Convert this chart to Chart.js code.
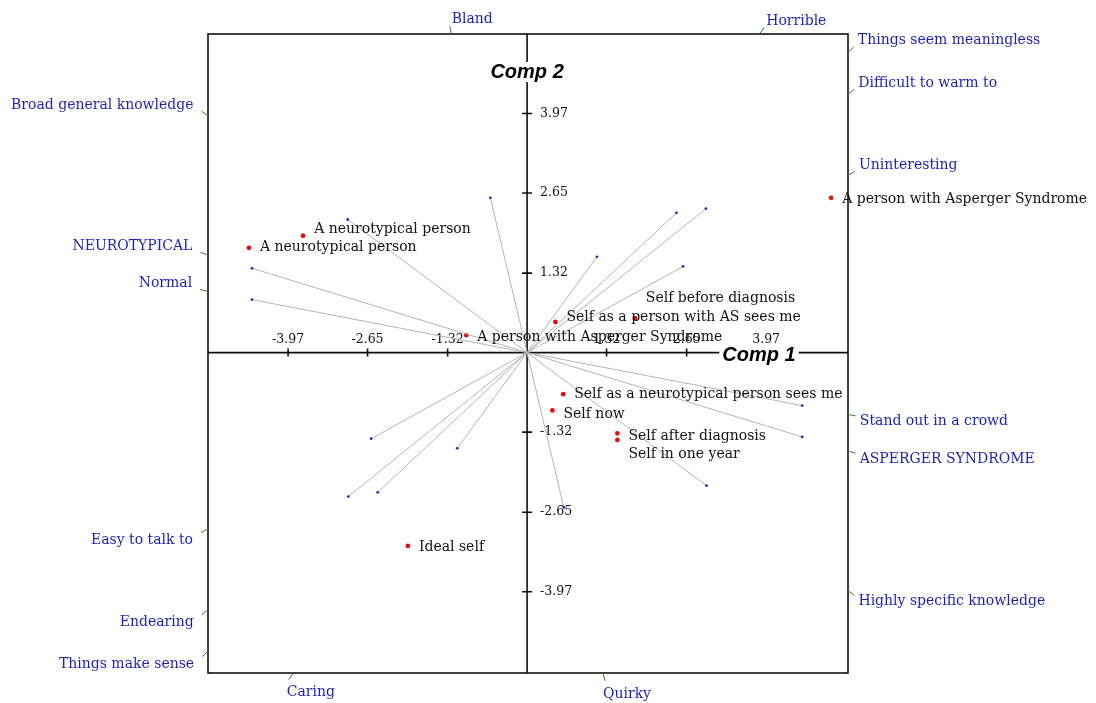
<!DOCTYPE html>
<html>
<head>
<meta charset="utf-8">
<script src="https://cdn.jsdelivr.net/npm/chart.js@4.4.1/dist/chart.umd.min.js"></script>
<style>
  html, body { margin: 0; padding: 0; background: #fff; }
  #wrap { width: 1096px; height: 703px; }
</style>
</head>
<body>
<div id="wrap"><canvas id="grid-chart" width="1096" height="703"></canvas></div>
<script>
// Elements (red points) on component 1 / component 2
const elementNames = [
  "A neurotypical person",
  "A neurotypical person",
  "A person with Asperger Syndrome",
  "A person with Asperger Syndrome",
  "Self as a person with AS sees me",
  "Self before diagnosis",
  "Self as a neurotypical person sees me",
  "Self now",
  "Self after diagnosis",
  "Self in one year",
  "Ideal self",
];
const elementX = [-3.72, -4.62, -1.01, 5.05, 0.47, 1.79, 0.60, 0.42, 1.50, 1.50, -1.98];
const elementY = [1.94, 1.74, 0.29, 2.57, 0.51, 0.57, -0.69, -0.96, -1.34, -1.45, -3.21];

// Constructs: loading of one pole, the other pole is its mirror image
const poleNames = [
  "Bland",
  "Broad general knowledge",
  "NEUROTYPICAL",
  "Normal",
  "Horrible",
  "Things seem meaningless",
  "Difficult to warm to",
  "Uninteresting",
];
const oppositeNames = [
  "Quirky",
  "Highly specific knowledge",
  "ASPERGER SYNDROME",
  "Stand out in a crowd",
  "Caring",
  "Things make sense",
  "Endearing",
  "Easy to talk to",
];
const constructX = [-0.61, -2.98, -4.57, -4.57, 1.16, 2.48, 2.97, 2.59];
const constructY = [2.57, 2.21, 1.40, 0.88, 1.59, 2.32, 2.39, 1.43];

// Tick values on both axes
const tickValues = [-3.97, -2.65, -1.32, 1.32, 2.65, 3.97];

const serif = "'DejaVu Serif', 'Liberation Serif', serif";
const poleBlue = "#1f1fb4";
const tickGreen = "#3c7d3c";

// Build one line per pole, from the origin out to the pole point
function poleLine(x, y) {
  return {
    data: [{ x: 0, y: 0 }, { x: x, y: y }],
    showLine: true,
    borderColor: "#b4b4b4",
    borderWidth: 1,
    pointRadius: [0, 1.4],
    pointBackgroundColor: "#2b2bab",
    pointBorderWidth: 0,
  };
}

const datasets = [];
for (let i = 0; i < constructX.length; i++) {
  datasets.push(poleLine(constructX[i], constructY[i]));
  datasets.push(poleLine(-constructX[i], -constructY[i]));
}
datasets.push({
  data: elementX.map((x, i) => ({ x: x, y: elementY[i] })),
  pointRadius: 2.4,
  pointBackgroundColor: "#e01010",
  pointBorderWidth: 0,
});

// Small vertical nudges so the labels sit where the original put them
const labelDy = [-6, 0, 2, 2, -5, -20, 0, 4, 3, 14, 1];

const gridFrame = {
  id: "gridFrame",
  beforeDatasetsDraw(chart) {
    const { ctx, chartArea: a, scales } = chart;
    const ox = scales.x.getPixelForValue(0);
    const oy = scales.y.getPixelForValue(0);
    ctx.save();
    ctx.strokeStyle = "#111";
    ctx.lineWidth = 1.6;
    ctx.strokeRect(a.left, a.top, a.right - a.left, a.bottom - a.top);
    ctx.beginPath();
    ctx.moveTo(a.left, oy);
    ctx.lineTo(a.right, oy);
    ctx.moveTo(ox, a.top);
    ctx.lineTo(ox, a.bottom);
    tickValues.forEach((v) => {
      const px = scales.x.getPixelForValue(v);
      const py = scales.y.getPixelForValue(v);
      ctx.moveTo(px, oy - 4);
      ctx.lineTo(px, oy + 4);
      ctx.moveTo(ox - 5, py);
      ctx.lineTo(ox + 5, py);
    });
    ctx.stroke();

    ctx.fillStyle = "#111";
    ctx.font = "12.5px " + serif;
    tickValues.forEach((v) => {
      const px = scales.x.getPixelForValue(v);
      const py = scales.y.getPixelForValue(v);
      ctx.textAlign = "center";
      ctx.textBaseline = "alphabetic";
      ctx.fillText(v.toFixed(2), px, oy - 10);
      ctx.textAlign = "left";
      ctx.textBaseline = "middle";
      ctx.fillText(v.toFixed(2), ox + 13, py);
    });
    ctx.restore();
  },
  afterDatasetsDraw(chart) {
    const { ctx, chartArea: a, scales } = chart;
    const ox = scales.x.getPixelForValue(0);
    const oy = scales.y.getPixelForValue(0);
    ctx.save();

    // element labels
    const pts = chart.getDatasetMeta(chart.data.datasets.length - 1).data;
    ctx.fillStyle = "#111";
    ctx.font = "14px " + serif;
    ctx.textAlign = "left";
    ctx.textBaseline = "middle";
    pts.forEach((p, i) => {
      ctx.fillText(elementNames[i], p.x + 11, p.y + labelDy[i]);
    });

    // component titles on a white patch
    ctx.font = "italic bold 20px 'Liberation Sans', Arial, sans-serif";
    ctx.textAlign = "center";
    ctx.textBaseline = "middle";
    const titles = [
      ["Comp 2", ox, a.top + 38],
      ["Comp 1", a.right - 89, oy + 3],
    ];
    titles.forEach(([t, x, y]) => {
      const w = ctx.measureText(t).width;
      ctx.fillStyle = "#fff";
      ctx.fillRect(x - w / 2 - 3, y - 10, w + 6, 20);
      ctx.fillStyle = "#000";
      ctx.fillText(t, x, y);
    });

    // pole labels where each pole's ray leaves the frame
    ctx.font = "14px " + serif;
    const drawPole = (vx, vy, name) => {
      const ex = scales.x.getPixelForValue(vx);
      const ey = scales.y.getPixelForValue(vy);
      const dx = ex - ox;
      const dy = ey - oy;
      const tx = dx > 0 ? (a.right - ox) / dx : (a.left - ox) / dx;
      const ty = dy > 0 ? (a.bottom - oy) / dy : (a.top - oy) / dy;
      const t = Math.min(tx, ty);
      const hx = ox + dx * t;
      const hy = oy + dy * t;
      const len = Math.hypot(dx, dy);
      const kx = hx + (dx / len) * 8;
      const ky = hy + (dy / len) * 8;
      ctx.strokeStyle = tickGreen;
      ctx.lineWidth = 1;
      ctx.beginPath();
      ctx.moveTo(hx, hy);
      ctx.lineTo(kx, ky);
      ctx.stroke();
      ctx.fillStyle = poleBlue;
      ctx.textBaseline = "alphabetic";
      if (tx < ty) {
        if (dx > 0) {
          ctx.textAlign = "left";
          ctx.fillText(name, kx + 4, dy < 0 ? ky - 2.5 : ky + 9.5);
        } else {
          ctx.textAlign = "right";
          ctx.fillText(name, kx - 8, dy < 0 ? ky - 2.5 : ky + 11.5);
        }
      } else {
        ctx.textAlign = "left";
        if (dy < 0) {
          ctx.fillText(name, kx + 2, ky - 3);
        } else {
          ctx.fillText(name, kx - 2, ky + 17);
        }
      }
    };
    for (let i = 0; i < constructX.length; i++) {
      drawPole(constructX[i], constructY[i], poleNames[i]);
      drawPole(-constructX[i], -constructY[i], oppositeNames[i]);
    }
    ctx.restore();
  },
};

const ctx = document.getElementById("grid-chart").getContext("2d");
new Chart(ctx, {
  type: "scatter",
  data: { datasets: datasets },
  options: {
    responsive: false,
    animation: false,
    layout: { padding: { left: 208, top: 34, right: 248, bottom: 30 } },
    plugins: { legend: { display: false }, tooltip: { enabled: false } },
    scales: {
      x: { display: false, min: -5.3, max: 5.33 },
      y: { display: false, min: -5.32, max: 5.29 },
    },
  },
  plugins: [gridFrame],
});
</script>
</body>
</html>
